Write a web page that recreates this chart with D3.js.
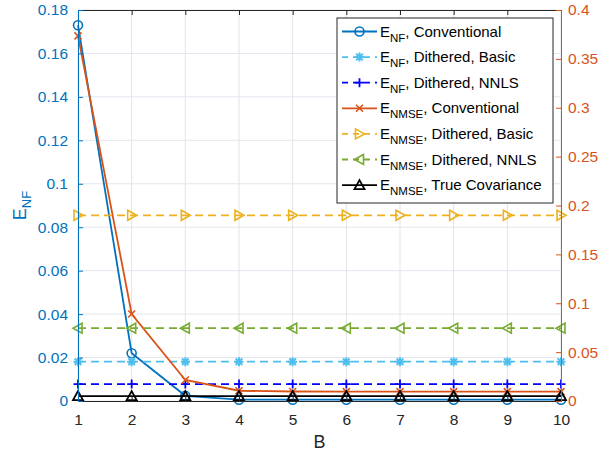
<!DOCTYPE html>
<html><head><meta charset="utf-8">
<script src="https://cdn.jsdelivr.net/npm/d3@7"></script>
<style>body{margin:0;background:#fff}svg{display:block;font-family:"Liberation Sans",Arial,Helvetica,sans-serif}</style>
</head><body><svg id="c" width="602" height="457"></svg>
<script>
const B = [1,2,3,4,5,6,7,8,9,10];
const nfConventional = [0.1730,0.0220,0.0024,0.0006,0.0006,0.0006,0.0006,0.0006,0.0006,0.0006];
const nfDitheredBasic = [0.0181,0.0181,0.0181,0.0181,0.0181,0.0181,0.0181,0.0181,0.0181,0.0181];
const nfDitheredNNLS = [0.0078,0.0078,0.0078,0.0078,0.0078,0.0078,0.0078,0.0078,0.0078,0.0078];
const nmseConventional = [0.3735,0.0890,0.0215,0.0105,0.0097,0.0096,0.0096,0.0096,0.0096,0.0096];
const nmseDitheredBasic = [0.1900,0.1900,0.1900,0.1900,0.1900,0.1900,0.1900,0.1900,0.1900,0.1900];
const nmseDitheredNNLS = [0.0745,0.0745,0.0745,0.0745,0.0745,0.0745,0.0745,0.0745,0.0745,0.0745];
const nmseTrueCov = [0.0050,0.0050,0.0050,0.0050,0.0050,0.0050,0.0050,0.0050,0.0050,0.0050];
const leftTicks = [0,0.02,0.04,0.06,0.08,0.1,0.12,0.14,0.16,0.18];
const rightTicks = [0,0.05,0.1,0.15,0.2,0.25,0.3,0.35,0.4];
const seriesNames = [
  ["NF","Conventional"],["NF","Dithered, Basic"],["NF","Dithered, NNLS"],
  ["NMSE","Conventional"],["NMSE","Dithered, Basic"],["NMSE","Dithered, NNLS"],["NMSE","True Covariance"]];

const L=78,R=561,T=10,Bt=401;
const svg=d3.select("#c");
const x=d3.scaleLinear().domain([1,10]).range([L,R]);
const yL=d3.scaleLinear().domain([0,0.18]).range([Bt,T]);
const yR=d3.scaleLinear().domain([0,0.4]).range([Bt,T]);
const cL="#0072BD", cR="#D95319";

const series=[
 {v:nfConventional,y:yL,c:"#0072BD",dash:null,m:"o"},
 {v:nfDitheredBasic,y:yL,c:"#4DBEEE",dash:"8,5",m:"*"},
 {v:nfDitheredNNLS,y:yL,c:"#0000FF",dash:"8,5",m:"+"},
 {v:nmseConventional,y:yR,c:"#D95319",dash:null,m:"x"},
 {v:nmseDitheredBasic,y:yR,c:"#EDB120",dash:"8,5",m:">"},
 {v:nmseDitheredNNLS,y:yR,c:"#77AC30",dash:"8,5",m:"<"},
 {v:nmseTrueCov,y:yR,c:"#000000",dash:null,m:"^"}
];

// grid
const g=svg.append("g");
g.selectAll(".gx").data(B).enter().append("line")
 .attr("x1",d=>x(d)).attr("x2",d=>x(d)).attr("y1",T).attr("y2",Bt)
 .attr("stroke","#e3e3e3").attr("stroke-width",1);
g.selectAll(".gy").data(leftTicks).enter().append("line")
 .attr("x1",L).attr("x2",R).attr("y1",d=>yL(d)).attr("y2",d=>yL(d))
 .attr("stroke","#e3e6ee").attr("stroke-width",1);

function marker(sel,m,c,px,py){
  const s=4.5;
  if(m==="o") sel.append("circle").attr("cx",px).attr("cy",py).attr("r",s).attr("fill","none").attr("stroke",c).attr("stroke-width",1.6);
  else if(m==="+") sel.append("path").attr("d",`M${px-s},${py}H${px+s}M${px},${py-s}V${py+s}`).attr("stroke",c).attr("stroke-width",1.8);
  else if(m==="x") sel.append("path").attr("d",`M${px-3.5},${py-3.5}L${px+3.5},${py+3.5}M${px-3.5},${py+3.5}L${px+3.5},${py-3.5}`).attr("stroke",c).attr("stroke-width",1.6);
  else if(m==="*") sel.append("path").attr("d",`M${px-s},${py}H${px+s}M${px},${py-s}V${py+s}M${px-3.3},${py-3.3}L${px+3.3},${py+3.3}M${px-3.3},${py+3.3}L${px+3.3},${py-3.3}`).attr("stroke",c).attr("stroke-width",2);
  else if(m===">") sel.append("path").attr("d",`M${px-4},${py-5}L${px+5},${py}L${px-4},${py+5}Z`).attr("fill","none").attr("stroke",c).attr("stroke-width",1.6);
  else if(m==="<") sel.append("path").attr("d",`M${px+4},${py-5}L${px-5},${py}L${px+4},${py+5}Z`).attr("fill","none").attr("stroke",c).attr("stroke-width",1.6);
  else if(m==="^") sel.append("path").attr("d",`M${px},${py-5}L${px+5},${py+4}L${px-5},${py+4}Z`).attr("fill","none").attr("stroke",c).attr("stroke-width",1.8);
}

const plot=svg.append("g");
series.forEach(s=>{
  const line=d3.line().x((d,i)=>x(B[i])).y(d=>s.y(d));
  plot.append("path").datum(s.v).attr("d",line).attr("fill","none").attr("stroke",s.c)
   .attr("stroke-width",1.8).attr("stroke-dasharray",s.dash);
  const mg=plot.append("g");
  s.v.forEach((d,i)=>marker(mg,s.m,s.c,x(B[i]),s.y(d)));
});

// axes
const fs=15.5;
const ax=svg.append("g").attr("transform",`translate(0,${Bt})`)
 .call(d3.axisBottom(x).tickValues(B).tickSize(-5).tickPadding(13).tickFormat(d3.format("d")));
ax.select(".domain").attr("stroke","#262626");
ax.selectAll(".tick line").attr("stroke","#262626");
ax.selectAll("text").attr("font-size",fs).attr("fill","#262626").attr("font-family","Liberation Sans, Arial");
const axT=svg.append("g").attr("transform",`translate(0,${T})`)
 .call(d3.axisTop(x).tickValues(B).tickSize(-5).tickFormat(""));
axT.select(".domain").attr("stroke","#262626");
axT.selectAll(".tick line").attr("stroke","#262626");

const ayl=svg.append("g").attr("transform",`translate(${L},0)`)
 .call(d3.axisLeft(yL).tickValues(leftTicks).tickSize(-5).tickPadding(10).tickFormat(d3.format("~g")));
ayl.select(".domain").attr("stroke",cL);
ayl.selectAll(".tick line").attr("stroke",cL);
ayl.selectAll("text").attr("font-size",fs).attr("fill",cL).attr("font-family","Liberation Sans, Arial");

const ayr=svg.append("g").attr("transform",`translate(${R},0)`)
 .call(d3.axisRight(yR).tickValues(rightTicks).tickSize(-5).tickPadding(7).tickFormat(d3.format("~g")));
ayr.select(".domain").attr("stroke",cR);
ayr.selectAll(".tick line").attr("stroke",cR);
ayr.selectAll("text").attr("font-size",fs).attr("fill",cR).attr("font-family","Liberation Sans, Arial");

// axis labels
svg.append("text").attr("x",(L+R)/2).attr("y",448).attr("text-anchor","middle")
 .attr("font-size",18).attr("fill","#262626").text("B");
const yl=svg.append("text").attr("transform",`translate(26,${(T+Bt)/2}) rotate(-90)`)
 .attr("text-anchor","middle").attr("font-size",18).attr("fill",cL);
yl.append("tspan").text("E");
yl.append("tspan").attr("font-size",13).attr("dy",5).text("NF");

// legend
const lg=svg.append("g");
const lx=337, ly=18, lw=216, lh=185;
lg.append("rect").attr("x",lx).attr("y",ly).attr("width",lw).attr("height",lh)
 .attr("fill","#fff").attr("stroke","#262626").attr("stroke-width",1);
series.forEach((s,i)=>{
  const yy=ly+13.5+i*25.6;
  lg.append("line").attr("x1",lx+5).attr("x2",lx+40).attr("y1",yy).attr("y2",yy)
   .attr("stroke",s.c).attr("stroke-width",1.8).attr("stroke-dasharray",s.dash?"6,5":null);
  marker(lg,s.m,s.c,lx+22.5,yy);
  const t=lg.append("text").attr("x",lx+43).attr("y",yy+5).attr("font-size",15).attr("fill","#000");
  t.append("tspan").text("E");
  t.append("tspan").attr("font-size",11.5).attr("dy",5).text(seriesNames[i][0]);
  t.append("tspan").attr("dy",-5).text(", "+seriesNames[i][1]);
});
</script></body></html>
